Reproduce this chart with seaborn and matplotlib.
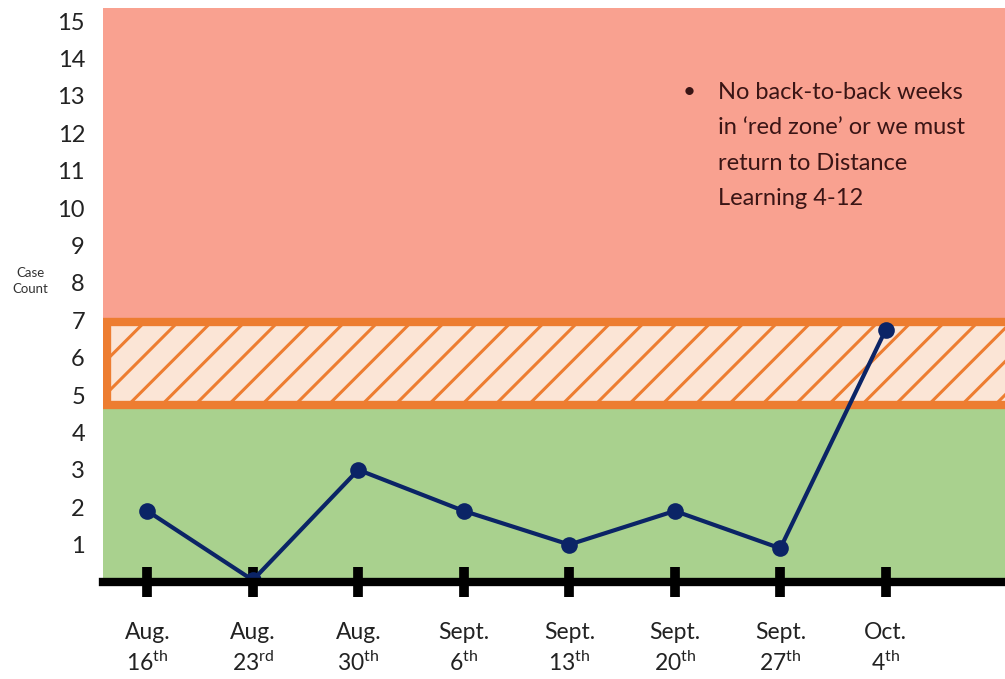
import numpy as np
import pandas as pd
import matplotlib
matplotlib.use("Agg")
import matplotlib.pyplot as plt
from matplotlib.patches import Rectangle
import seaborn as sns

# data
months = ["Aug.", "Aug.", "Aug.", "Sept.", "Sept.", "Sept.", "Sept.", "Oct."]
days = ["16", "23", "30", "6", "13", "20", "27", "4"]
suffixes = ["th", "rd", "th", "th", "th", "th", "th", "th"]
cases = [1.9, 0.05, 3.0, 1.9, 1.0, 1.9, 0.9, 6.75]

# zone limits
green_top = 4.73
band_top = 6.95
y_top = 15.35

sns.set_style("white")
plt.rcParams["font.family"] = ["Lato", "DejaVu Sans"]
plt.rcParams["mathtext.fontset"] = "custom"
plt.rcParams["mathtext.rm"] = "Lato"
plt.rcParams["mathtext.it"] = "Lato"
plt.rcParams["hatch.linewidth"] = 2.2

labels = [f"{m}\n{d}$^{{\\rm {s}}}$" for m, d, s in zip(months, days, suffixes)]
df = pd.DataFrame({"week": np.arange(len(cases)), "cases": cases})

fig = plt.figure(figsize=(10.05, 6.79), dpi=100)
ax = fig.add_axes([103 / 1005, 1 - 582 / 679, 1 - 103 / 1005, (582 - 8) / 679])

xmin, xmax = -0.42, 8.13
ax.axhspan(band_top, y_top, color="#f9a190", zorder=0)
ax.axhspan(0, green_top, color="#a9d18e", zorder=0)
band = Rectangle((-0.38, green_top), 9.0, band_top - green_top,
                 facecolor="#fbe5d6", edgecolor="#ed7d31", hatch="/",
                 linewidth=6, zorder=1)
ax.add_patch(band)

sns.lineplot(data=df, x="week", y="cases", ax=ax, color="#0b2466",
             linewidth=3, marker="o", markersize=12, markeredgewidth=0,
             zorder=3)

ax.set_xlim(xmin, xmax)
ax.set_ylim(0, y_top)
ax.set_yticks(range(1, 16))
ax.set_xticks(df["week"])
ax.set_xticklabels(labels, fontsize=16.5, color="#222222", linespacing=1.35)
ax.tick_params(axis="y", length=0, pad=13, labelsize=17, labelcolor="#222222")
ax.tick_params(axis="x", bottom=True, direction="inout", length=22, width=7,
               color="black", pad=18)
ax.set_xlabel("")
ax.set_ylabel("")
for s in ["top", "right", "left"]:
    ax.spines[s].set_visible(False)
ax.spines["bottom"].set_linewidth(6)
ax.spines["bottom"].set_color("black")
ax.spines["bottom"].set_zorder(4)

fig.text(30 / 1005, 1 - 281 / 679, "Case\nCount", ha="center", va="center",
         fontsize=9.5, color="#333333", linespacing=1.4)
fig.text(689 / 1005, 1 - 92 / 679, "\u2022", ha="center", va="center",
         fontsize=16, color="#3a1515")
fig.text(718 / 1005, 1 - 82 / 679,
         "No back-to-back weeks\nin \u2018red zone\u2019 or we must\nreturn to Distance\nLearning 4-12",
         ha="left", va="top", fontsize=17, color="#3a1515", linespacing=1.85)

fig.savefig("out.png", dpi=100)
